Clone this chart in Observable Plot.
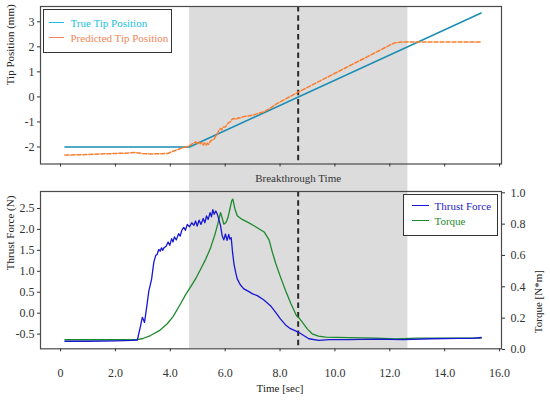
<!DOCTYPE html>
<html>
<head>
<meta charset="utf-8">
<script src="https://cdn.jsdelivr.net/npm/d3@7"></script>
<script src="https://cdn.jsdelivr.net/npm/@observablehq/plot@0.6"></script>
<style>
  html, body { margin: 0; padding: 0; background: #fff; }
  #wrap { position: relative; width: 550px; height: 402px; font-family: "Liberation Serif", "Times New Roman", "DejaVu Serif", serif; }
  #wrap svg { display: block; }
  #wrap svg text { font-family: "Liberation Serif", "Times New Roman", "DejaVu Serif", serif; }
  .legend { position: absolute; background: #fff; border: 1.3px solid #333; box-sizing: border-box; font-size: 11px; }
  .legend .row { position: absolute; left: 0; right: 0; height: 14px; }
  .legend .sw { position: absolute; height: 0; border-top: 1.8px solid; }
  .legend .lb { position: absolute; line-height: 14px; white-space: nowrap; }
</style>
</head>
<body>
<div id="wrap"></div>
<script>
// ---------- data ----------
const xTicks = [0, 2, 4, 6, 8, 10, 12, 14, 16];
const breakthroughTime = [8.66];
const spanStart = [4.7];
const spanEnd = [12.66];

const trueTime = [0.16, 4.7, 15.33];
const trueTip  = [-2.0, -2.0, 3.35];

const predTime = [0.16, 0.8, 1.46, 2.0, 2.5, 2.73, 3.0, 3.3, 3.9, 4.13, 4.35, 4.56, 4.68, 4.8, 4.92, 5.0, 5.05, 5.10, 5.15, 5.2, 5.25, 5.30, 5.35, 5.40, 5.45, 5.53, 5.6, 5.66, 5.71, 5.76, 5.83, 5.88, 5.93, 6.01, 6.08, 6.14, 6.20, 6.26, 6.32, 6.40, 6.48, 6.56, 6.7, 6.85, 7.04, 7.2, 7.41, 7.65, 7.84, 8.02, 8.68, 12.15, 12.4, 15.33];
const predTip  = [-2.32, -2.31, -2.28, -2.26, -2.24, -2.22, -2.26, -2.28, -2.26, -2.16, -2.07, -2.0, -1.96, -1.88, -1.80, -1.86, -1.80, -1.87, -1.82, -1.92, -1.84, -1.93, -1.85, -1.90, -1.78, -1.72, -1.68, -1.55, -1.52, -1.35, -1.26, -1.32, -1.20, -1.20, -1.08, -1.02, -0.98, -0.88, -0.86, -0.90, -0.83, -0.84, -0.78, -0.76, -0.72, -0.66, -0.60, -0.45, -0.30, -0.19, 0.20, 2.15, 2.19, 2.19];

const forceTime = [0.16, 1.0, 2.0, 2.6, 2.80, 2.90, 2.98, 3.02, 3.06, 3.12, 3.22, 3.28, 3.32, 3.40, 3.47, 3.52, 3.58, 3.63, 3.68, 3.72, 3.77, 3.85, 3.92, 3.98, 4.05, 4.10, 4.15, 4.22, 4.30, 4.36, 4.42, 4.49, 4.55, 4.62, 4.70, 4.78, 4.86, 4.92, 4.98, 5.05, 5.12, 5.20, 5.26, 5.32, 5.38, 5.45, 5.50, 5.55, 5.60, 5.66, 5.71, 5.77, 5.83, 5.89, 5.95, 6.01, 6.07, 6.13, 6.17, 6.22, 6.27, 6.32, 6.38, 6.44, 6.55, 6.68, 6.85, 7.0, 7.17, 7.4, 7.65, 7.84, 8.02, 8.2, 8.38, 8.66, 9.05, 9.41, 9.8, 10.5, 11.5, 12.5, 13.5, 14.5, 15.0, 15.33];
const thrust    = [-0.67, -0.67, -0.66, -0.65, -0.64, -0.35, -0.10, -0.15, -0.22, 0.05, 0.54, 0.70, 0.82, 1.22, 1.38, 1.40, 1.52, 1.48, 1.56, 1.50, 1.56, 1.60, 1.70, 1.62, 1.78, 1.70, 1.82, 1.75, 1.90, 1.84, 1.98, 2.05, 1.98, 2.12, 2.06, 2.16, 2.10, 2.20, 2.08, 2.22, 2.12, 2.26, 2.16, 2.32, 2.24, 2.40, 2.30, 2.47, 2.36, 2.44, 2.37, 2.24, 2.09, 1.85, 1.75, 1.89, 1.74, 1.88, 1.77, 1.80, 1.45, 1.18, 0.98, 0.82, 0.68, 0.58, 0.52, 0.46, 0.42, 0.32, 0.18, 0.02, -0.14, -0.28, -0.37, -0.45, -0.61, -0.65, -0.63, -0.63, -0.62, -0.63, -0.61, -0.60, -0.60, -0.58];

const torqueTime = [0.16, 1.0, 2.0, 2.8, 3.0, 3.28, 3.6, 3.89, 4.1, 4.37, 4.56, 4.74, 4.92, 5.10, 5.30, 5.47, 5.62, 5.73, 5.83, 5.89, 5.95, 6.03, 6.10, 6.17, 6.24, 6.28, 6.35, 6.44, 6.62, 6.85, 7.05, 7.42, 7.60, 7.72, 7.84, 8.02, 8.20, 8.40, 8.60, 8.70, 8.81, 9.0, 9.17, 9.4, 9.66, 10.5, 11.5, 12.2, 13.0, 14.0, 15.33];
const torque     = [0.062, 0.062, 0.062, 0.063, 0.070, 0.089, 0.12, 0.164, 0.21, 0.29, 0.35, 0.40, 0.45, 0.51, 0.58, 0.65, 0.73, 0.80, 0.874, 0.84, 0.80, 0.81, 0.84, 0.895, 0.95, 0.96, 0.90, 0.853, 0.83, 0.81, 0.79, 0.75, 0.70, 0.62, 0.55, 0.46, 0.376, 0.29, 0.215, 0.20, 0.174, 0.13, 0.10, 0.085, 0.079, 0.075, 0.072, 0.068, 0.072, 0.073, 0.072];

const tipTicks = [-2, -1, 0, 1, 2, 3];
const forceTicks = [-0.5, 0, 0.5, 1.0, 1.5, 2.0, 2.5];
const torqueTicks = [0, 0.2, 0.4, 0.6, 0.8, 1.0];

// ---------- styling / layout ----------
const FONT = "'Liberation Serif', 'Times New Roman', 'DejaVu Serif', serif";
const C_TRUE = "#1b8db3", C_TRUE_LEG = "#1cbfe0";
const C_PRED = "#fb7d2c", C_PRED_LEG = "#f2865a";
const C_FORCE = "#1717d4", C_FORCE_LEG = "#2525c4";
const C_TORQUE = "#1d8a2c";
const C_SPAN = "#dcdcdc";
const xDomain = [-0.73, 16.07];

const wrap = document.getElementById("wrap");

// top panel
const T = {h: 185, mt: 6, mb: 21.5, dom: [-2.68, 3.61]};
const tPx = (T.h - T.mt - T.mb) / (T.dom[1] - T.dom[0]);
const tExtBottom = T.dom[0] - T.mb / tPx;
const spans = spanStart.map((s, i) => ({s, e: spanEnd[i]}));
const trueData = trueTime.map((t, i) => ({t, v: trueTip[i]}));
const predData = predTime.map((t, i) => ({t, v: predTip[i]}));

const topChart = Plot.plot({
  width: 550, height: T.h,
  marginLeft: 40, marginRight: 49, marginTop: T.mt, marginBottom: T.mb,
  x: {domain: xDomain},
  y: {domain: T.dom},
  style: {fontFamily: FONT, fontSize: "12px", color: "#333", background: "transparent", overflow: "visible"},
  marks: [
    Plot.rect(spans, {x1: "s", x2: "e", y1: () => tExtBottom, y2: () => T.dom[1], fill: C_SPAN}),
    Plot.ruleX(breakthroughTime, {stroke: "#2a2a2a", strokeWidth: 2, strokeDasharray: "5.5,3.8"}),
    Plot.line(trueData, {x: "t", y: "v", stroke: C_TRUE, strokeWidth: 1.5}),
    Plot.line(predData, {x: "t", y: "v", stroke: C_PRED, strokeWidth: 1.5, strokeDasharray: "4,2"}),
    Plot.frame({stroke: "#4a4a4a", strokeWidth: 1.2}),
    Plot.axisY({ticks: tipTicks, tickSize: 3, tickPadding: 3, tickFormat: d => String(d), label: null}),
    Plot.axisX({ticks: xTicks, tickSize: 3, tickFormat: () => "", label: null}),
    Plot.text(["Tip Position (mm)"], {frameAnchor: "left", dx: -30, rotate: -90, fontSize: 11, fill: "#222"}),
    Plot.text(breakthroughTime, {x: d => d, y: () => tExtBottom, dy: -7, text: () => "Breakthrough Time", fontSize: 11, fill: "#333"})
  ]
});
wrap.appendChild(topChart);

// bottom panel
const B = {h: 217, mt: 6, mb: 53.7, dom: [-0.85, 2.905]};
const bPx = (B.h - B.mt - B.mb) / (B.dom[1] - B.dom[0]);
const bExtTop = B.dom[1] + B.mt / bPx;
const tq = t => -0.866 + 3.74 * t;
const tqInv = v => (v + 0.866) / 3.74;
const forceData = forceTime.map((t, i) => ({t, v: thrust[i]}));
const torqueData = torqueTime.map((t, i) => ({t, v: tq(torque[i])}));

const bottomChart = Plot.plot({
  width: 550, height: B.h,
  marginLeft: 40, marginRight: 49, marginTop: B.mt, marginBottom: B.mb,
  x: {domain: xDomain},
  y: {domain: B.dom},
  style: {fontFamily: FONT, fontSize: "12px", color: "#333", background: "transparent", overflow: "visible"},
  marks: [
    Plot.rect(spans, {x1: "s", x2: "e", y1: () => B.dom[0], y2: () => bExtTop, fill: C_SPAN}),
    Plot.ruleX(breakthroughTime, {stroke: "#2a2a2a", strokeWidth: 2, strokeDasharray: "5.5,3.8"}),
    Plot.line(torqueData, {x: "t", y: "v", stroke: C_TORQUE, strokeWidth: 1.3}),
    Plot.line(forceData, {x: "t", y: "v", stroke: C_FORCE, strokeWidth: 1.3}),
    Plot.frame({stroke: "#4a4a4a", strokeWidth: 1.2}),
    Plot.axisY({ticks: forceTicks, tickSize: 3, tickPadding: 3, tickFormat: d => d.toFixed(1), label: null}),
    Plot.axisY({anchor: "right", ticks: torqueTicks.map(tq), tickSize: 3, tickPadding: 6, tickFormat: d => tqInv(d).toFixed(1), label: null}),
    Plot.axisX({ticks: xTicks, tickSize: 3, tickPadding: 17, tickFormat: d => d === 0 ? "0" : d.toFixed(1), label: null}),
    Plot.text(["Thrust Force (N)"], {frameAnchor: "left", dx: -30, rotate: -90, fontSize: 11, fill: "#222"}),
    Plot.text(["Torque [N*m]"], {frameAnchor: "right", dx: 37, rotate: -90, fontSize: 11, fill: "#222"}),
    Plot.text(["Time [sec]"], {x: () => d3.mean(d3.extent(xTicks)), frameAnchor: "bottom", dy: 43, fontSize: 11, fill: "#222"})
  ]
});
wrap.appendChild(bottomChart);

// legends
function legend(left, topPx, w, h, items) {
  const box = document.createElement("div");
  box.className = "legend";
  Object.assign(box.style, {left: left + "px", top: topPx + "px", width: w + "px", height: h + "px"});
  items.forEach(it => {
    const row = document.createElement("div");
    row.className = "row";
    row.style.top = it.y + "px";
    const sw = document.createElement("div");
    sw.className = "sw";
    Object.assign(sw.style, {left: it.sx + "px", width: it.sw + "px", top: "6px", borderTopColor: it.line});
    const lb = document.createElement("div");
    lb.className = "lb";
    Object.assign(lb.style, {left: it.tx + "px", color: it.text});
    lb.textContent = it.label;
    row.appendChild(sw); row.appendChild(lb);
    box.appendChild(row);
  });
  wrap.appendChild(box);
}
legend(42.5, 9, 129.5, 43.5, [
  {y: 5.5, sx: 5, sw: 15, tx: 27, line: C_TRUE_LEG, text: C_TRUE_LEG, label: "True Tip Position"},
  {y: 21, sx: 5, sw: 15, tx: 27, line: C_PRED_LEG, text: C_PRED_LEG, label: "Predicted Tip Position"}
]);
legend(402.5, 194.3, 95.5, 42, [
  {y: 4.2, sx: 8.5, sw: 16.5, tx: 31, line: C_FORCE, text: C_FORCE_LEG, label: "Thrust Force"},
  {y: 19.2, sx: 8.5, sw: 16.5, tx: 31, line: C_TORQUE, text: C_TORQUE, label: "Torque"}
]);
</script>
</body>
</html>
